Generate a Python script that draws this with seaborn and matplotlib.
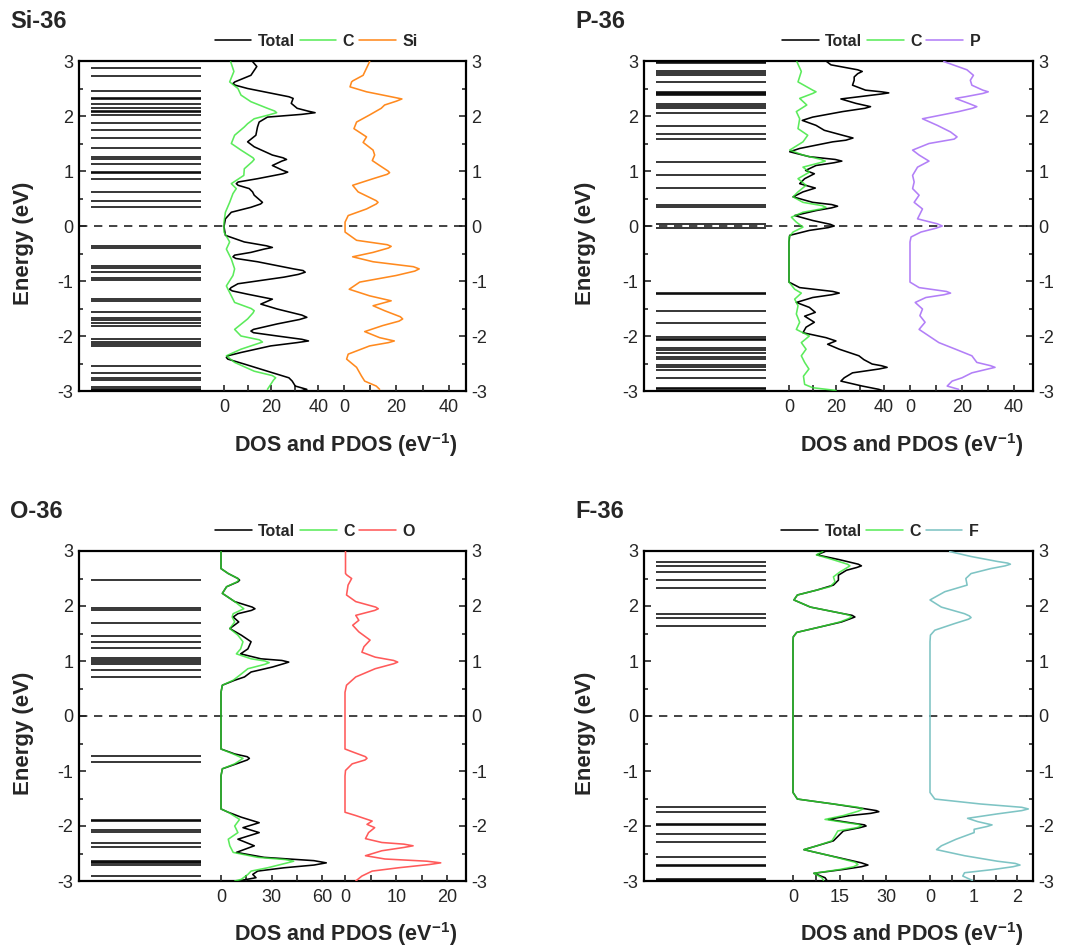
import matplotlib
matplotlib.use("Agg")
import matplotlib.pyplot as plt
import seaborn as sns
from matplotlib.ticker import MultipleLocator

# ---------------- data ----------------
# energy levels (eV)
si_levels = [2.87, 2.73, 2.46, 2.33, 2.31, 2.21, 2.14, 2.10, 2.07, 2.02, 1.88, 1.74, 1.60,
             1.41, 1.25, 1.22, 1.12, 0.99, 0.96, 0.86, 0.62, 0.45, 0.34, -0.36, -0.40,
             -0.73, -0.76, -0.84, -0.94, -0.98, -1.33, -1.37, -1.57, -1.67, -1.70, -1.77,
             -1.82, -2.05, -2.10, -2.15, -2.19, -2.55, -2.67, -2.77, -2.80, -2.93, -2.96, -2.99]
p_levels = [2.99, 2.97, 2.82, 2.79, 2.75, 2.61, 2.44, 2.42, 2.40, 2.38, 2.22, 2.18, 2.14, 2.06,
            1.82, 1.68, 1.59, 1.17, 0.93, 0.69, 0.38, 0.35, 0.03, -0.03, -1.21, -1.24, -1.55,
            -1.76, -2.01, -2.05, -2.08, -2.22, -2.26, -2.31, -2.38, -2.41, -2.53, -2.56, -2.62,
            -2.76, -2.94, -2.97]
o_levels = [2.47, 1.97, 1.93, 1.69, 1.45, 1.34, 1.24, 1.05, 1.01, 0.98, 0.95, 0.84, 0.71,
            -0.72, -0.83, -1.89, -1.91, -2.08, -2.10, -2.31, -2.39, -2.64, -2.66, -2.68,
            -2.70, -2.91]
f_levels = [2.80, 2.73, 2.61, 2.47, 2.33, 1.85, 1.79, 1.64, -1.65, -1.75, -1.97, -1.99,
            -2.15, -2.29, -2.57, -2.70, -2.72, -2.96, -2.98]

# DOS curves as (energy eV, DOS eV^-1) pairs
si_tot = [(2.99, 12.1), (2.90, 13.9), (2.74, 11.4), (2.62, 4.6), (2.59, 3.8), (2.56, 4.8),
          (2.50, 10.0), (2.35, 27.5), (2.32, 29.3), (2.23, 28.5), (2.14, 31.0), (2.09, 35.5),
          (2.06, 38.6), (2.03, 33.0), (1.98, 18.4), (1.89, 14.9), (1.80, 14.2), (1.65, 13.5),
          (1.53, 10.0), (1.44, 12.8), (1.29, 20.5), (1.24, 25.0), (1.21, 26.5), (1.18, 24.5),
          (1.10, 20.5), (1.01, 25.0), (0.98, 27.0), (0.95, 25.0), (0.86, 14.2), (0.80, 6.0),
          (0.77, 5.2), (0.74, 6.0), (0.68, 10.7), (0.62, 12.1), (0.56, 12.8), (0.46, 15.5),
          (0.43, 16.3), (0.40, 15.5), (0.34, 11.4), (0.25, 3.1), (0.13, 0.6), (-0.01, 0.0),
          (-0.17, 0.6), (-0.29, 8.6), (-0.36, 18.0), (-0.39, 20.5), (-0.42, 17.0), (-0.48, 11.4),
          (-0.53, 4.5), (-0.56, 3.8), (-0.59, 5.0), (-0.65, 14.2), (-0.78, 29.5), (-0.81, 33.5),
          (-0.84, 34.4), (-0.88, 31.5), (-0.93, 25.4), (-1.05, 5.9), (-1.12, 3.0), (-1.15, 2.4),
          (-1.18, 3.5), (-1.24, 10.0), (-1.33, 20.5), (-1.42, 15.6), (-1.51, 22.6), (-1.62, 33.0),
          (-1.66, 35.1), (-1.70, 32.0), (-1.78, 22.6), (-1.88, 12.5), (-1.91, 11.4), (-1.94, 12.5),
          (-2.00, 22.6), (-2.06, 33.0), (-2.09, 35.8), (-2.12, 31.0), (-2.18, 19.8), (-2.30, 7.2),
          (-2.36, 1.6), (-2.39, 1.0), (-2.42, 1.6), (-2.51, 8.6), (-2.64, 18.4), (-2.76, 27.5),
          (-2.82, 28.9), (-2.91, 30.2), (-2.97, 35.1), (-3.00, 32.3)]
si_c = [(2.99, 2.8), (2.81, 4.2), (2.62, 2.4), (2.50, 5.9), (2.38, 7.2), (2.26, 11.4),
        (2.14, 18.4), (2.09, 21.5), (2.06, 22.3), (2.02, 19.0), (1.95, 12.8), (1.86, 10.0),
        (1.80, 8.6), (1.65, 4.5), (1.50, 3.1), (1.38, 7.2), (1.24, 12.3), (1.21, 12.8),
        (1.17, 12.0), (1.04, 8.6), (0.92, 8.4), (0.77, 3.1), (0.68, 5.2), (0.59, 3.8),
        (0.43, 2.4), (0.25, 0.6), (0.07, 0.0), (-0.11, 0.0), (-0.29, 2.4), (-0.42, 1.0),
        (-0.60, 3.1), (-0.78, 4.5), (-0.90, 3.8), (-1.09, 1.0), (-1.27, 3.1), (-1.39, 4.5),
        (-1.50, 11.5), (-1.54, 12.8), (-1.58, 12.3), (-1.69, 10.0), (-1.88, 4.5), (-2.00, 7.2),
        (-2.07, 15.0), (-2.11, 16.3), (-2.15, 13.5), (-2.24, 7.2), (-2.36, 1.0), (-2.48, 4.5),
        (-2.64, 12.8), (-2.72, 20.5), (-2.76, 21.9), (-2.80, 21.0), (-2.88, 19.8), (-2.97, 18.4)]
si_el = [(2.99, 9.8), (2.87, 8.6), (2.74, 7.3), (2.64, 3.4), (2.62, 2.9), (2.53, 2.3),
         (2.44, 8.6), (2.35, 18.0), (2.31, 22.1), (2.27, 20.0), (2.20, 15.5), (2.14, 14.2),
         (2.02, 9.8), (1.89, 4.8), (1.77, 3.8), (1.62, 8.6), (1.52, 7.3), (1.38, 11.1),
         (1.29, 11.7), (1.19, 10.8), (1.10, 13.6), (1.00, 16.8), (0.97, 17.4), (0.94, 16.5),
         (0.86, 11.1), (0.74, 3.3), (0.62, 5.4), (0.46, 12.3), (0.43, 13.0), (0.40, 12.3),
         (0.31, 8.6), (0.19, 1.6), (0.07, 0.4), (-0.11, 0.4), (-0.26, 4.8), (-0.34, 16.5),
         (-0.37, 18.0), (-0.40, 17.0), (-0.48, 11.1), (-0.56, 3.3), (-0.65, 11.1), (-0.74, 26.5),
         (-0.78, 28.7), (-0.82, 27.0), (-0.90, 19.9), (-1.02, 6.0), (-1.15, 2.0), (-1.27, 9.8),
         (-1.36, 18.0), (-1.45, 11.1), (-1.54, 15.5), (-1.65, 21.5), (-1.69, 22.4), (-1.73, 21.0),
         (-1.81, 14.8), (-1.92, 7.9), (-2.03, 13.6), (-2.09, 19.2), (-2.12, 17.0), (-2.18, 9.8),
         (-2.33, 1.6), (-2.42, 1.0), (-2.57, 4.8), (-2.73, 6.7), (-2.82, 7.9), (-2.91, 12.3),
         (-2.97, 13.6)]

p_tot = [(2.99, 15.9), (2.93, 17.7), (2.84, 29.0), (2.81, 30.9), (2.77, 29.0), (2.71, 27.5),
         (2.65, 27.5), (2.56, 26.8), (2.47, 32.3), (2.44, 39.0), (2.42, 42.1), (2.40, 39.0),
         (2.35, 29.5), (2.31, 21.9), (2.23, 28.2), (2.17, 34.4), (2.14, 32.0), (2.08, 22.6),
         (1.98, 10.0), (1.92, 5.6), (1.83, 11.4), (1.74, 14.9), (1.65, 22.6), (1.60, 27.0),
         (1.56, 24.0), (1.53, 18.4), (1.41, 4.5), (1.35, 0.3), (1.26, 8.6), (1.21, 19.5),
         (1.18, 22.3), (1.15, 19.0), (1.10, 11.4), (1.01, 7.0), (0.95, 10.7), (0.86, 6.6),
         (0.77, 4.5), (0.69, 11.1), (0.62, 5.9), (0.53, 1.7), (0.43, 10.0), (0.39, 18.0),
         (0.36, 20.5), (0.33, 18.0), (0.28, 11.4), (0.19, 2.4), (0.10, 10.0), (0.03, 17.5),
         (0.00, 19.1), (-0.03, 16.5), (-0.08, 8.6), (-0.17, 0.3), (-0.29, 0.0), (-1.02, 0.0),
         (-1.12, 4.5), (-1.19, 18.5), (-1.22, 21.2), (-1.25, 18.0), (-1.30, 10.0), (-1.39, 3.1),
         (-1.48, 8.6), (-1.57, 11.1), (-1.64, 6.6), (-1.75, 10.7), (-1.84, 7.2), (-1.94, 5.9),
         (-2.03, 15.6), (-2.09, 19.8), (-2.15, 16.3), (-2.24, 21.2), (-2.36, 29.5), (-2.43, 31.6),
         (-2.51, 35.1), (-2.54, 39.0), (-2.57, 41.4), (-2.60, 38.0), (-2.67, 26.8), (-2.76, 23.3),
         (-2.82, 21.9), (-2.91, 30.9), (-2.97, 37.9), (-3.00, 40.0)]
p_c = [(2.99, 3.3), (2.81, 5.2), (2.62, 3.8), (2.47, 10.0), (2.44, 11.4), (2.41, 10.0),
       (2.32, 4.5), (2.20, 7.5), (2.08, 3.1), (1.95, 4.5), (1.77, 3.8), (1.65, 7.9),
       (1.53, 5.9), (1.38, 0.3), (1.29, 5.9), (1.21, 13.5), (1.18, 15.3), (1.15, 13.0),
       (1.07, 5.9), (0.98, 8.6), (0.86, 3.8), (0.74, 7.2), (0.62, 3.8), (0.53, 1.7),
       (0.43, 5.9), (0.37, 14.0), (0.34, 15.6), (0.31, 13.5), (0.25, 5.9), (0.16, 1.0),
       (0.07, 3.1), (-0.02, 5.9), (-0.11, 1.7), (-0.20, 0.0), (-1.02, 0.0), (-1.15, 2.4),
       (-1.22, 5.2), (-1.33, 2.4), (-1.45, 3.8), (-1.60, 3.1), (-1.75, 4.5), (-1.88, 3.1),
       (-2.00, 8.6), (-2.12, 5.2), (-2.24, 7.2), (-2.36, 5.2), (-2.48, 6.6), (-2.60, 8.4),
       (-2.73, 6.1), (-2.88, 6.6), (-2.94, 10.0), (-2.99, 19.8)]
p_el = [(2.99, 13.0), (2.84, 21.9), (2.74, 24.4), (2.65, 23.2), (2.56, 23.8), (2.47, 28.0),
        (2.44, 30.1), (2.41, 28.0), (2.35, 21.3), (2.32, 17.5), (2.23, 22.5), (2.17, 25.7),
        (2.14, 24.0), (2.08, 18.7), (1.95, 4.8), (1.83, 10.5), (1.71, 15.6), (1.62, 18.1),
        (1.58, 17.0), (1.50, 7.3), (1.38, 1.0), (1.29, 3.5), (1.18, 7.3), (1.07, 2.9),
        (0.92, 1.0), (0.80, 1.6), (0.68, 1.0), (0.56, 3.5), (0.43, 1.6), (0.31, 4.8),
        (0.13, 2.9), (0.04, 10.5), (0.00, 12.4), (-0.04, 10.0), (-0.11, 4.2), (-0.20, 0.4),
        (-0.29, 0.0), (-1.02, 0.0), (-1.12, 3.5), (-1.19, 14.0), (-1.22, 15.6), (-1.25, 13.0),
        (-1.30, 6.1), (-1.39, 2.0), (-1.51, 4.8), (-1.63, 3.8), (-1.75, 5.8), (-1.88, 3.5),
        (-2.00, 7.3), (-2.12, 11.1), (-2.24, 17.5), (-2.36, 23.8), (-2.48, 25.7), (-2.54, 31.0),
        (-2.57, 32.7), (-2.60, 30.0), (-2.67, 23.8), (-2.76, 20.0), (-2.82, 16.2), (-2.91, 14.3),
        (-2.97, 18.7)]

o_tot = [(3.00, 0.0), (2.68, 0.0), (2.59, 4.3), (2.50, 10.0), (2.47, 11.0), (2.44, 10.0),
         (2.35, 3.3), (2.23, 0.8), (2.08, 8.1), (1.98, 18.5), (1.95, 20.1), (1.92, 18.0),
         (1.86, 10.0), (1.80, 7.2), (1.71, 10.5), (1.59, 5.2), (1.47, 12.0), (1.35, 17.8),
         (1.22, 15.9), (1.13, 11.6), (1.04, 23.6), (1.01, 36.0), (0.98, 40.1), (0.95, 37.0),
         (0.89, 30.4), (0.80, 17.8), (0.71, 13.9), (0.65, 8.1), (0.56, 0.8), (0.43, 0.0),
         (-0.60, 0.0), (-0.69, 8.1), (-0.74, 15.5), (-0.77, 16.8), (-0.80, 15.5), (-0.87, 9.1),
         (-0.96, 0.8), (-1.09, 0.0), (-1.69, 0.0), (-1.75, 4.3), (-1.84, 12.0), (-1.94, 22.6),
         (-2.03, 13.0), (-2.12, 22.6), (-2.24, 10.0), (-2.36, 19.7), (-2.48, 9.1), (-2.57, 25.5),
         (-2.63, 55.0), (-2.67, 62.3), (-2.71, 55.0), (-2.76, 37.2), (-2.82, 21.7), (-2.88, 18.8),
         (-2.94, 20.7), (-3.00, 10.0)]
o_c = [(3.00, 0.0), (2.68, 0.0), (2.59, 4.3), (2.50, 10.0), (2.47, 10.5), (2.44, 9.5),
       (2.35, 3.3), (2.23, 0.8), (2.08, 8.1), (1.95, 13.5), (1.86, 7.2), (1.80, 6.6),
       (1.71, 8.1), (1.59, 5.2), (1.47, 10.0), (1.35, 13.0), (1.22, 11.6), (1.13, 9.1),
       (1.04, 17.8), (1.00, 26.0), (0.97, 28.5), (0.94, 26.0), (0.86, 15.9), (0.74, 11.0),
       (0.65, 7.2), (0.56, 0.8), (0.43, 0.0), (-0.60, 0.0), (-0.69, 7.2), (-0.77, 13.0),
       (-0.87, 8.1), (-0.96, 0.8), (-1.09, 0.0), (-1.69, 0.0), (-1.75, 4.3), (-1.88, 11.0),
       (-2.00, 8.1), (-2.12, 10.0), (-2.24, 4.3), (-2.36, 5.2), (-2.48, 7.2), (-2.57, 21.7),
       (-2.61, 38.0), (-2.64, 43.0), (-2.68, 38.0), (-2.76, 27.5), (-2.82, 17.8), (-2.88, 15.9),
       (-2.97, 12.0), (-3.00, 8.1)]
o_el = [(3.00, 0.1), (2.59, 0.1), (2.56, 0.4), (2.50, 1.3), (2.38, 0.6), (2.20, 0.3),
        (2.08, 2.1), (1.98, 6.0), (1.95, 6.5), (1.92, 5.8), (1.83, 2.1), (1.74, 2.7),
        (1.65, 1.5), (1.53, 2.7), (1.38, 4.9), (1.26, 3.7), (1.16, 3.3), (1.07, 5.9),
        (1.01, 9.5), (0.98, 10.3), (0.95, 9.5), (0.86, 5.9), (0.71, 2.1), (0.56, 0.3),
        (0.43, 0.0), (-0.60, 0.0), (-0.65, 1.4), (-0.74, 4.0), (-0.77, 4.3), (-0.80, 3.9),
        (-0.87, 1.4), (-0.99, 0.1), (-1.09, 0.0), (-1.75, 0.0), (-1.81, 2.1), (-1.91, 5.3),
        (-1.97, 4.3), (-2.03, 5.8), (-2.12, 4.6), (-2.23, 4.0), (-2.30, 7.2), (-2.33, 11.5),
        (-2.36, 13.3), (-2.39, 11.5), (-2.45, 7.2), (-2.54, 4.0), (-2.60, 7.8), (-2.64, 16.0),
        (-2.67, 18.7), (-2.70, 16.5), (-2.76, 10.4), (-2.82, 5.3), (-2.91, 3.3), (-3.00, 2.1)]

f_tot = [(2.99, 10.3), (2.93, 7.7), (2.84, 15.1), (2.76, 21.0), (2.73, 22.0), (2.70, 20.5),
         (2.65, 17.2), (2.56, 14.6), (2.47, 14.6), (2.38, 13.0), (2.29, 7.7), (2.20, 1.4),
         (2.11, 0.3), (1.98, 5.6), (1.86, 16.2), (1.83, 19.0), (1.80, 19.9), (1.77, 18.5),
         (1.71, 15.6), (1.62, 8.8), (1.52, 1.2), (1.44, 0.1), (1.35, 0.0), (-1.39, 0.0),
         (-1.51, 1.4), (-1.60, 13.0), (-1.69, 23.5), (-1.72, 26.8), (-1.74, 27.6), (-1.77, 25.0),
         (-1.81, 18.3), (-1.88, 11.4), (-1.94, 18.3), (-1.98, 23.0), (-2.00, 23.5), (-2.03, 21.5),
         (-2.09, 16.2), (-2.18, 14.6), (-2.27, 13.0), (-2.36, 7.7), (-2.43, 3.5), (-2.54, 11.9),
         (-2.67, 22.0), (-2.71, 24.1), (-2.74, 22.0), (-2.79, 16.2), (-2.86, 6.7), (-2.94, 10.3),
         (-2.99, 10.9)]
f_c = [(2.99, 9.6), (2.93, 7.5), (2.84, 13.0), (2.76, 17.5), (2.73, 18.3), (2.70, 17.5),
       (2.62, 15.1), (2.53, 13.0), (2.44, 13.5), (2.35, 11.9), (2.29, 7.7), (2.20, 1.4),
       (2.11, 0.3), (1.98, 5.6), (1.86, 16.2), (1.83, 18.2), (1.80, 18.8), (1.77, 17.8),
       (1.71, 15.1), (1.62, 8.8), (1.52, 1.2), (1.44, 0.1), (1.35, 0.0), (-1.39, 0.0),
       (-1.51, 1.4), (-1.60, 13.0), (-1.66, 21.0), (-1.69, 22.5), (-1.73, 21.0), (-1.81, 16.2),
       (-1.88, 10.3), (-1.94, 17.2), (-1.97, 21.0), (-2.00, 22.0), (-2.03, 20.5), (-2.09, 14.4),
       (-2.18, 13.5), (-2.27, 12.5), (-2.36, 7.7), (-2.43, 3.5), (-2.54, 11.9), (-2.66, 20.0),
       (-2.70, 20.9), (-2.74, 19.5), (-2.79, 15.1), (-2.86, 6.7), (-2.94, 9.3), (-2.99, 9.8)]
f_el = [(2.99, 0.45), (2.90, 0.94), (2.81, 1.54), (2.78, 1.78), (2.76, 1.84), (2.73, 1.72),
        (2.68, 1.39), (2.59, 0.94), (2.50, 0.82), (2.38, 0.85), (2.26, 0.34), (2.11, 0.0),
        (1.98, 0.26), (1.86, 0.79), (1.82, 0.90), (1.79, 0.94), (1.76, 0.88), (1.68, 0.56),
        (1.56, 0.11), (1.47, 0.01), (1.35, 0.0), (-1.39, 0.0), (-1.51, 0.11), (-1.60, 1.16),
        (-1.66, 2.10), (-1.69, 2.25), (-1.72, 2.10), (-1.78, 1.54), (-1.86, 0.86), (-1.92, 1.09),
        (-1.98, 1.42), (-2.01, 1.30), (-2.06, 1.01), (-2.12, 1.01), (-2.24, 0.60), (-2.36, 0.26),
        (-2.43, 0.15), (-2.54, 0.79), (-2.64, 1.54), (-2.68, 1.95), (-2.71, 2.06), (-2.74, 1.90),
        (-2.79, 1.46), (-2.85, 0.79), (-2.91, 0.75), (-2.99, 0.97)]

panel_titles = ["Si-36", "P-36", "O-36", "F-36"]
element_names = ["Si", "P", "O", "F"]
series_names = ["Total", "C"]
dos_tick_labels = [[0, 20, 40], [0, 20, 40], [0, 30, 60], [0, 15, 30]]
pdos_tick_labels = [[0, 20, 40], [0, 20, 40], [0, 10, 20], [0, 1, 2]]

# ---------------- style ----------------
sns.set_style("white")
plt.rcParams["font.family"] = ["Liberation Sans", "DejaVu Sans"]
plt.rcParams["mathtext.fontset"] = "custom"
plt.rcParams["mathtext.rm"] = "Liberation Sans"
plt.rcParams["mathtext.bf"] = "Liberation Sans:bold"
plt.rcParams["axes.unicode_minus"] = False

W, H = 1075, 949
fig = plt.figure(figsize=(W / 100, H / 100), dpi=100)


def rect(x0, y0, x1, y1):
    return [x0 / W, 1 - y1 / H, (x1 - x0) / W, (y1 - y0) / H]


c_color = "#33e633"
el_colors = ["#ff8a1f", "#b27ff7", "#ff5a5a", "#7ec4c4"]

data = [
    (si_levels, si_tot, si_c, si_el),
    (p_levels, p_tot, p_c, p_el),
    (o_levels, o_tot, o_c, o_el),
    (f_levels, f_tot, f_c, f_el),
]

# layout (pixels): frame, level span, axis zeros and px-per-unit
layout = [
    dict(frame=(79, 61, 466, 391), lev=(91, 201), z1=224, s1=2.36, z2=344, s2=2.62,
         minor1=10, minor2=10, title=(10, 22), ylab=(23, 243), xlab=(346, 445), leg=(316, 41)),
    dict(frame=(644, 61, 1033, 391), lev=(656, 766), z1=789, s1=2.37, z2=910, s2=2.60,
         minor1=10, minor2=10, title=(575, 22), ylab=(586, 243), xlab=(912, 445), leg=(881, 41)),
    dict(frame=(79, 551, 466, 881), lev=(91, 201), z1=221, s1=1.69, z2=345, s2=5.12,
         minor1=15, minor2=5, title=(10, 512), ylab=(23, 733), xlab=(346, 934), leg=(315, 531)),
    dict(frame=(644, 551, 1033, 881), lev=(656, 766), z1=793, s1=3.11, z2=930, s2=43.7,
         minor1=7.5, minor2=0.5, title=(575, 512), ylab=(586, 733), xlab=(912, 934), leg=(880, 531)),
]

fs_tick = 13
line_kw = dict(lw=1.15, orient="y", estimator=None, legend=False,
               solid_joinstyle="round", solid_capstyle="round")

for i in range(4):
    L = layout[i]
    levels, tot, cc, el = data[i]
    fx0, fy0, fx1, fy1 = L["frame"]

    ax = fig.add_axes(rect(*L["frame"]))
    ax.set_xlim(0, 1)
    ax.set_ylim(-3, 3)
    ax.set_xticks([])
    ax.yaxis.set_major_locator(MultipleLocator(1))
    ax.yaxis.set_minor_locator(MultipleLocator(0.5))
    ax.tick_params(axis="y", which="both", direction="in", left=True, right=True,
                   labelleft=True, labelright=True, labelsize=fs_tick, width=1.2, pad=4)
    ax.tick_params(axis="y", which="major", length=5)
    ax.tick_params(axis="y", which="minor", length=3)
    for s in ax.spines.values():
        s.set_visible(True)
        s.set_linewidth(1.6)
        s.set_color("black")
    ax.axhline(0, color="#222222", lw=1.2, ls=(0, (5, 4)), zorder=1)

    # energy levels
    lax = fig.add_axes(rect(L["lev"][0], fy0, L["lev"][1], fy1))
    lax.set_xlim(0, 1)
    lax.set_ylim(-3, 3)
    lax.axis("off")
    lax.hlines(levels, 0, 1, color="black", lw=1.1)

    def sub_axes(zero, ppu, majors, minor):
        a = fig.add_axes(rect(*L["frame"]))
        a.patch.set_alpha(0)
        a.set_xlim((fx0 - zero) / ppu, (fx1 - zero) / ppu)
        a.set_ylim(-3, 3)
        for s in a.spines.values():
            s.set_visible(False)
        a.set_yticks([])
        a.set_xticks(majors)
        a.set_xticklabels([str(v) for v in majors])
        n = int(round((majors[-1] - majors[0]) / minor))
        mins = [majors[0] + minor * k for k in range(n + 1)]
        mins = [m for m in mins if m not in majors]
        a.set_xticks(mins, minor=True)
        a.tick_params(axis="x", which="both", direction="in", bottom=True, top=False,
                      labelsize=fs_tick, width=1.2, length=4, pad=6)
        return a

    a1 = sub_axes(L["z1"], L["s1"], dos_tick_labels[i], L["minor1"])
    a2 = sub_axes(L["z2"], L["s2"], pdos_tick_labels[i], L["minor2"])

    sns.lineplot(x=[v for _, v in tot], y=[e for e, _ in tot], ax=a1, color="black", **line_kw)
    sns.lineplot(x=[v for _, v in cc], y=[e for e, _ in cc], ax=a1, color=c_color,
                 alpha=0.8, **line_kw)
    sns.lineplot(x=[v for _, v in el], y=[e for e, _ in el], ax=a2, color=el_colors[i], **line_kw)
    for a in (a1, a2):
        a.set_xlabel("")
        a.set_ylabel("")
        a.set_ylim(-3, 3)

    handles = a1.get_lines()[:2] + a2.get_lines()[:1]
    labels = series_names + [element_names[i]]
    fig.legend(handles, labels, loc="center",
               bbox_to_anchor=(L["leg"][0] / W, 1 - L["leg"][1] / H),
               ncol=3, frameon=False, prop={"weight": "bold", "size": 11.5},
               handlelength=2.3, handletextpad=0.4, columnspacing=0.3, borderpad=0)

    fig.text(L["title"][0] / W, 1 - L["title"][1] / H, panel_titles[i], fontsize=17,
             weight="bold", ha="left", va="center")
    fig.text(L["ylab"][0] / W, 1 - L["ylab"][1] / H, "Energy (eV)", rotation=90,
             fontsize=16, weight="bold", ha="center", va="center")
    fig.text(L["xlab"][0] / W, 1 - L["xlab"][1] / H, r"DOS and PDOS (eV$^{\mathbf{-1}}$)",
             fontsize=15.5, weight="bold", ha="center", va="center")

fig.savefig("out.png", dpi=100)
